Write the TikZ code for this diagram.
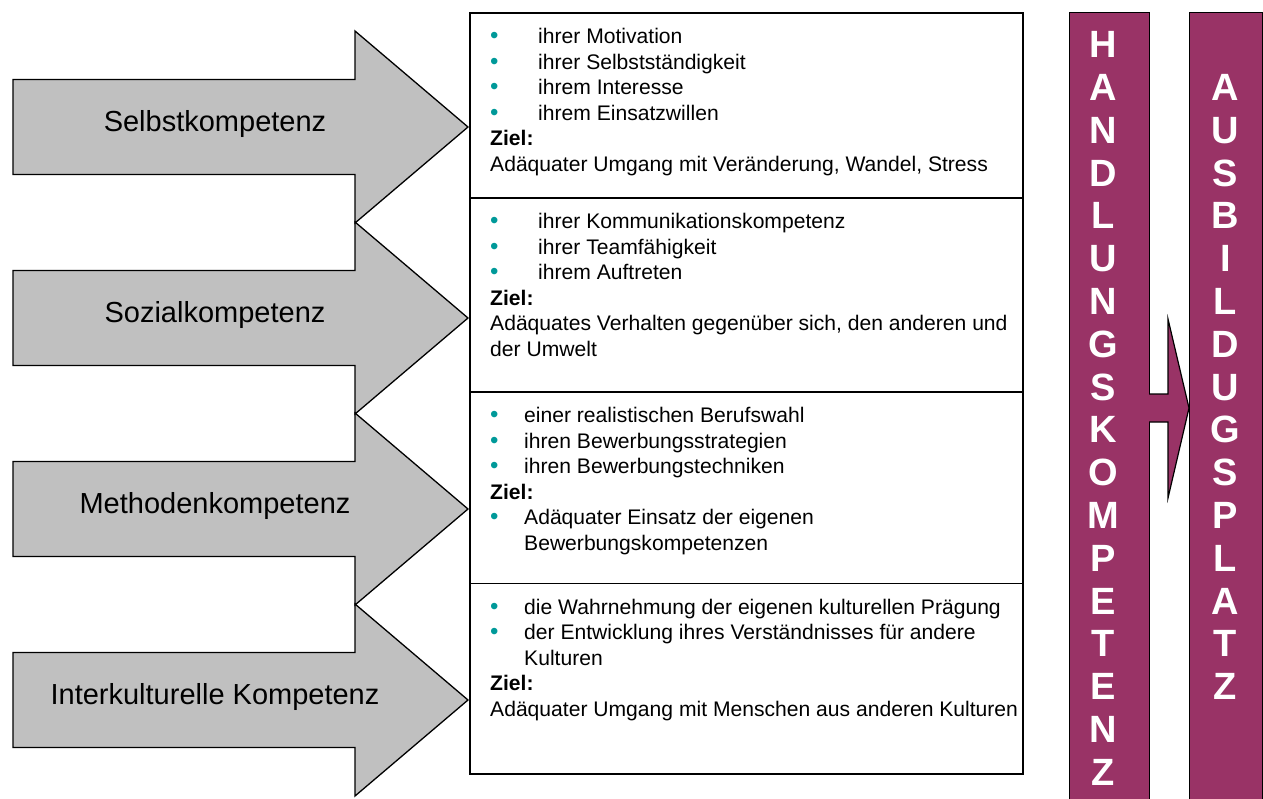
\documentclass[tikz,border=0pt]{standalone}
\usepackage{fontspec}
\setmainfont{Liberation Sans}
\definecolor{plum}{RGB}{153,51,102}
\definecolor{arrowgray}{RGB}{192,192,192}
\definecolor{bulletc}{RGB}{0,153,153}
\newcommand{\bul}[2]{\makebox[#1][l]{\textcolor{bulletc}{\fontsize{24}{24}\selectfont •}}#2}
\tikzset{
 grayarrow/.style={draw=black, fill=arrowgray, line width=1.3pt, line join=miter},
 arrowlabel/.style={font=\fontsize{29}{35}\selectfont, anchor=base, inner sep=0pt},
 boxcell/.style={draw=black, line width=1.5pt, anchor=north west, minimum width=553pt, inner sep=0pt},
 boxtext/.style={anchor=north west, inner sep=0pt, align=left, font=\fontsize{21.1}{25.5}\selectfont},
 barbox/.style={draw=black, fill=plum, line width=1.2pt, anchor=north west, inner sep=0pt},
 barletter/.style={text=white, font=\fontsize{38}{38}\selectfont\bfseries, anchor=base, inner sep=0pt},
 smallarrow/.style={draw=black, line width=1.2pt, line join=miter},
}
\begin{document}
\begin{tikzpicture}[x=1pt,y=-1pt]
\useasboundingbox (0,0) rectangle (1263,798);
\clip (0,0) rectangle (1263,798);

% gray arrows
\foreach \c in {127,318,509,700}
  \draw[grayarrow] (13,\c-47.5) -- (355,\c-47.5) -- (355,\c-96) -- (468,\c)
     -- (355,\c+96) -- (355,\c+47.5) -- (13,\c+47.5) -- cycle;
\node[arrowlabel] (l1) at (215,131) {Selbstkompetenz};
\node[arrowlabel] (l2) at (215,322) {Sozialkompetenz};
\node[arrowlabel] (l3) at (215,513) {Methodenkompetenz};
\node[arrowlabel] (l4) at (215,704) {Interkulturelle Kompetenz};

% table of boxes
\node[boxcell, minimum height=185pt] (b1) at (469,12) {};
\node[boxcell, minimum height=194pt] (b2) at (469,197) {};
\node[boxcell, minimum height=191.5pt] (b3) at (469,391) {};
\node[boxcell, minimum height=190.5pt] (b4) at (469,582.5) {};

\node[boxtext] (t1) at (490,25.65) {\strut\bul{48pt}{ihrer Motivation}\\
\bul{48pt}{ihrer Selbstständigkeit}\\
\bul{48pt}{ihrem Interesse}\\
\bul{48pt}{ihrem Einsatzwillen}\\
\textbf{Ziel:}\\
Adäquater Umgang mit Veränderung, Wandel, Stress};

\node[boxtext] (t2) at (490,210.65) {\strut\bul{48pt}{ihrer Kommunikationskompetenz}\\
\bul{48pt}{ihrer Teamfähigkeit}\\
\bul{48pt}{ihrem Auftreten}\\
\textbf{Ziel:}\\
Adäquates Verhalten gegenüber sich, den anderen und\\
der Umwelt};

\node[boxtext] (t3) at (490,404.65) {\strut\bul{34pt}{einer realistischen Berufswahl}\\
\bul{34pt}{ihren Bewerbungsstrategien}\\
\bul{34pt}{ihren Bewerbungstechniken}\\
\textbf{Ziel:}\\
\bul{34pt}{Adäquater Einsatz der eigenen}\\
\hspace*{34pt}Bewerbungskompetenzen};

\node[boxtext] (t4) at (490,596.15) {\strut\bul{34pt}{die Wahrnehmung der eigenen kulturellen Prägung}\\
\bul{34pt}{der Entwicklung ihres Verständnisses für andere}\\
\hspace*{34pt}Kulturen\\
\textbf{Ziel:}\\
Adäquater Umgang mit Menschen aus anderen Kulturen};

% purple bars
\node[barbox, minimum width=80pt, minimum height=800pt] (hbar) at (1069,12) {};
\node[barbox, minimum width=73pt, minimum height=800pt] (abar) at (1189,12) {};

% small arrow between the bars
\fill[plum] (1145,394) -- (1168,394) -- (1168,319) -- (1189,408) -- (1168,498)
   -- (1168,422) -- (1145,422) -- cycle;
\draw[smallarrow] (1149,394) -- (1168,394) -- (1168,319) -- (1189,408) -- (1168,498)
   -- (1168,422) -- (1149,422);

\foreach \L [count=\i from 0] in {H,A,N,D,L,U,N,G,S,K,O,M,P,E,T,E,N,Z}
  \node[barletter] (hl\i) at (1103,57.6+42.8*\i) {\L};
\foreach \L [count=\i from 1] in {A,U,S,B,I,L,D,U,G,S,P,L,A,T,Z}
  \node[barletter] (al\i) at (1225.5,57.6+42.8*\i) {\L};
\end{tikzpicture}
\end{document}
